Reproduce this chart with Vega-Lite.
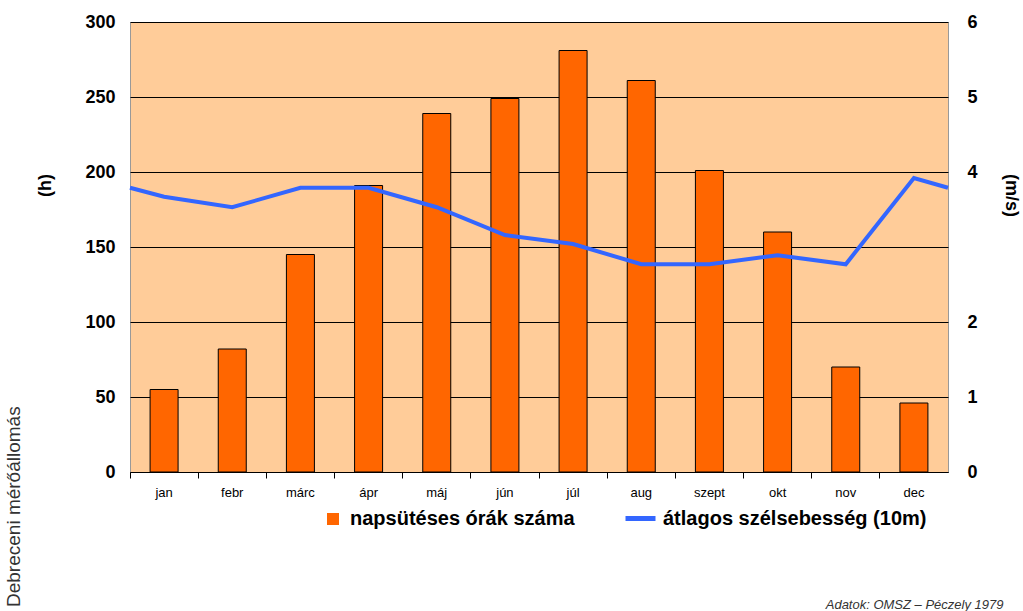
{
  "$schema": "https://vega.github.io/schema/vega-lite/v6.json",
  "width": 818,
  "height": 450,
  "autosize": "none",
  "padding": {"left": 130, "top": 22, "right": 75, "bottom": 139},
  "background": "white",
  "config": {
    "font": "Liberation Sans",
    "view": {"fill": "#FFCC99", "stroke": "#999999", "strokeWidth": 1}
  },
  "title": {
    "text": "Debreceni mérőállomás",
    "orient": "left",
    "anchor": "start",
    "frame": "group",
    "offset": 12,
    "dx": -135,
    "fontSize": 19,
    "fontWeight": "normal",
    "color": "#333333"
  },
  "datasets": {
    "bars": [
      {"month": "jan", "hours": 55, "series": "napsütéses órák száma"},
      {"month": "febr", "hours": 82, "series": "napsütéses órák száma"},
      {"month": "márc", "hours": 145, "series": "napsütéses órák száma"},
      {"month": "ápr", "hours": 191, "series": "napsütéses órák száma"},
      {"month": "máj", "hours": 239, "series": "napsütéses órák száma"},
      {"month": "jún", "hours": 249, "series": "napsütéses órák száma"},
      {"month": "júl", "hours": 281, "series": "napsütéses órák száma"},
      {"month": "aug", "hours": 261, "series": "napsütéses órák száma"},
      {"month": "szept", "hours": 201, "series": "napsütéses órák száma"},
      {"month": "okt", "hours": 160, "series": "napsütéses órák száma"},
      {"month": "nov", "hours": 70, "series": "napsütéses órák száma"},
      {"month": "dec", "hours": 46, "series": "napsütéses órák száma"}
    ],
    "wind": [
      {"pos": 0, "month": "", "wind": 3.79, "series": "átlagos szélsebesség (10m)"},
      {"pos": 0.5, "month": "jan", "wind": 3.67, "series": "átlagos szélsebesség (10m)"},
      {"pos": 1.5, "month": "febr", "wind": 3.53, "series": "átlagos szélsebesség (10m)"},
      {"pos": 2.5, "month": "márc", "wind": 3.79, "series": "átlagos szélsebesség (10m)"},
      {"pos": 3.5, "month": "ápr", "wind": 3.79, "series": "átlagos szélsebesség (10m)"},
      {"pos": 4.5, "month": "máj", "wind": 3.53, "series": "átlagos szélsebesség (10m)"},
      {"pos": 5.5, "month": "jún", "wind": 3.16, "series": "átlagos szélsebesség (10m)"},
      {"pos": 6.5, "month": "júl", "wind": 3.04, "series": "átlagos szélsebesség (10m)"},
      {"pos": 7.5, "month": "aug", "wind": 2.77, "series": "átlagos szélsebesség (10m)"},
      {"pos": 8.5, "month": "szept", "wind": 2.77, "series": "átlagos szélsebesség (10m)"},
      {"pos": 9.5, "month": "okt", "wind": 2.89, "series": "átlagos szélsebesség (10m)"},
      {"pos": 10.5, "month": "nov", "wind": 2.77, "series": "átlagos szélsebesség (10m)"},
      {"pos": 11.5, "month": "dec", "wind": 3.92, "series": "átlagos szélsebesség (10m)"},
      {"pos": 12, "month": "", "wind": 3.79, "series": "átlagos szélsebesség (10m)"}
    ]
  },
  "layer": [
    {
      "data": {"name": "bars"},
      "mark": {"type": "bar", "size": 28, "stroke": "#000000", "strokeWidth": 1},
      "encoding": {
        "x": {
          "field": "month",
          "type": "nominal",
          "sort": null,
          "scale": {"paddingInner": 0, "paddingOuter": 0},
          "axis": {
            "orient": "bottom",
            "bandPosition": 0,
            "grid": false,
            "domain": true,
            "domainColor": "#000000",
            "domainWidth": 1,
            "ticks": true,
            "tickColor": "#000000",
            "tickSize": 6,
            "labelAngle": 0,
            "labelFontSize": 13,
            "labelColor": "#000000",
            "labelPadding": 8,
            "title": "Adatok: OMSZ – Péczely 1979",
            "titleFontSize": 13,
            "titleFontStyle": "italic",
            "titleFontWeight": "normal",
            "titleColor": "#333333",
            "titleX": 873,
            "titleY": 136,
            "titleAlign": "right",
            "titleBaseline": "alphabetic"
          }
        },
        "y": {
          "field": "hours",
          "type": "quantitative",
          "scale": {"domain": [0, 300]},
          "axis": {
            "orient": "left",
            "values": [0, 50, 100, 150, 200, 250, 300],
            "grid": true,
            "gridColor": "#000000",
            "gridOpacity": 1,
            "gridWidth": 1,
            "domain": false,
            "ticks": false,
            "labelFontSize": 18,
            "labelFontWeight": "bold",
            "labelColor": "#000000",
            "labelPadding": 15,
            "title": "(h)",
            "titleFontSize": 18,
            "titleFontWeight": "bold",
            "titleColor": "#000000",
            "titleX": -85,
            "titleY": 163,
            "titleBaseline": "middle"
          }
        },
        "fill": {
          "field": "series",
          "type": "nominal",
          "scale": {"range": ["#FF6600"]},
          "legend": {
            "orient": "none",
            "legendX": 193,
            "legendY": 487,
            "title": null,
            "padding": 0,
            "symbolType": "square",
            "symbolSize": 144,
            "symbolStrokeWidth": 0,
            "labelFontSize": 20,
            "labelFontWeight": "bold",
            "labelColor": "#000000",
            "labelOffset": 7,
            "labelLimit": 500
          }
        }
      }
    },
    {
      "data": {"name": "wind"},
      "mark": {"type": "line", "strokeWidth": 4},
      "encoding": {
        "x": {
          "field": "pos",
          "type": "quantitative",
          "scale": {"domain": [0, 12], "nice": false, "zero": false},
          "axis": null
        },
        "y": {
          "field": "wind",
          "type": "quantitative",
          "scale": {"domain": [0, 6]},
          "axis": {
            "orient": "right",
            "values": [0, 1, 2, 4, 5, 6],
            "grid": false,
            "domain": false,
            "ticks": false,
            "labelFontSize": 18,
            "labelFontWeight": "bold",
            "labelColor": "#000000",
            "labelPadding": 19,
            "title": "(m/s)",
            "titleFontSize": 18,
            "titleFontWeight": "bold",
            "titleColor": "#000000",
            "titleX": 62,
            "titleY": 173,
            "titleBaseline": "middle"
          }
        },
        "stroke": {
          "field": "series",
          "type": "nominal",
          "scale": {"range": ["#3366FF"]},
          "legend": {
            "orient": "none",
            "legendX": 493,
            "legendY": 479,
            "title": null,
            "padding": 0,
            "symbolType": "stroke",
            "symbolSize": 900,
            "symbolStrokeWidth": 5,
            "labelFontSize": 20,
            "labelFontWeight": "bold",
            "labelColor": "#000000",
            "labelOffset": 5,
            "labelLimit": 500
          }
        }
      }
    }
  ],
  "resolve": {"scale": {"x": "independent", "y": "independent", "fill": "independent", "stroke": "independent"}}
}
